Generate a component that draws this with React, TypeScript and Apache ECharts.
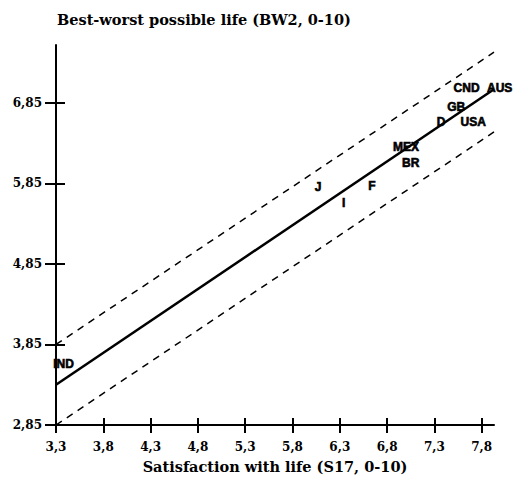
import React, { useEffect, useRef } from "react";
import * as echarts from "echarts";

// Country labels (positions: satisfaction x, best-worst y)
const countries = ["IND", "J", "I", "F", "MEX", "BR", "D", "GB", "USA", "CND", "AUS"];
const satisfaction = [3.38, 6.07, 6.34, 6.64, 7.0, 7.05, 7.37, 7.53, 7.71, 7.64, 7.99];
const bestWorst = [3.61, 5.81, 5.61, 5.82, 6.3, 6.1, 6.61, 6.8, 6.61, 7.04, 7.04];

// Regression line and band (end points)
const lineX = [3.3, 7.93];
const fitY = [3.35, 7.02];
const upperY = [3.85, 7.48];
const lowerY = [2.85, 6.49];

const xTicks = [3.3, 3.8, 4.3, 4.8, 5.3, 5.8, 6.3, 6.8, 7.3, 7.8];
const yTicks = [2.85, 3.85, 4.85, 5.85, 6.85];

const X_MIN = 3.3;
const X_MAX = 7.93;
const Y_MIN = 2.85;
const Y_MAX = 7.57;

export default function App() {
  const ref = useRef<HTMLDivElement>(null);
  useEffect(() => {
    if (!ref.current) return;
    const chart = echarts.init(ref.current, null, { renderer: "svg" });
    const serif = "DejaVu Serif";
    const mkX = (idx: number, inside: boolean) => ({
      type: "value",
      min: X_MIN,
      max: X_MAX,
      position: "bottom",
      axisLine: { show: idx === 0, onZero: false, lineStyle: { color: "#000", width: 2 } },
      axisTick: {
        show: true,
        inside,
        length: inside ? 7 : 8,
        customValues: xTicks,
        lineStyle: { color: "#000", width: 2 },
      },
      axisLabel: {
        show: idx === 0,
        customValues: xTicks,
        margin: 16,
        color: "#000",
        fontFamily: serif,
        fontWeight: "bold",
        fontSize: 12,
        formatter: (v: number) => v.toFixed(1).replace(".", ","),
      },
      splitLine: { show: false },
      name: idx === 0 ? "Satisfaction with life (S17, 0-10)" : "",
      nameLocation: "middle",
      nameGap: 34,
      nameTextStyle: { color: "#000", fontFamily: serif, fontWeight: "bold", fontSize: 14.5 },
    });
    const mkY = (idx: number, inside: boolean) => ({
      type: "value",
      min: Y_MIN,
      max: Y_MAX,
      position: "left",
      axisLine: { show: idx === 0, onZero: false, lineStyle: { color: "#000", width: 2 } },
      axisTick: {
        show: true,
        inside,
        length: inside ? 9 : 11,
        customValues: yTicks,
        lineStyle: { color: "#000", width: 2 },
      },
      axisLabel: {
        show: idx === 0,
        customValues: yTicks,
        margin: 14,
        color: "#000",
        fontFamily: serif,
        fontWeight: "bold",
        fontSize: 12,
        formatter: (v: number) => v.toFixed(2).replace(".", ","),
      },
      splitLine: { show: false },
    });
    const labelData = countries.map((c, i) => [satisfaction[i], bestWorst[i], c]);
    chart.setOption({
      animation: false,
      backgroundColor: "#fff",
      title: {
        text: "Best-worst possible life (BW2, 0-10)",
        left: 52,
        top: 7,
        textStyle: { color: "#000", fontFamily: serif, fontWeight: "bold", fontSize: 14.5 },
      },
      grid: { left: 56, right: 20, top: 45, bottom: 69, containLabel: false },
      xAxis: [mkX(0, false), mkX(1, true)],
      yAxis: [mkY(0, false), mkY(1, true)],
      series: [
        {
          type: "line",
          data: lineX.map((x, i) => [x, fitY[i]]),
          symbol: "none",
          lineStyle: { color: "#000", width: 2.5 },
          z: 3,
        },
        {
          type: "line",
          data: lineX.map((x, i) => [x, upperY[i]]),
          symbol: "none",
          lineStyle: { color: "#000", width: 1.5, type: [7, 6] },
          z: 3,
        },
        {
          type: "line",
          data: lineX.map((x, i) => [x, lowerY[i]]),
          symbol: "none",
          lineStyle: { color: "#000", width: 1.5, type: [7, 6] },
          z: 3,
        },
        {
          type: "scatter",
          data: labelData,
          symbolSize: 0,
          clip: false,
          itemStyle: { color: "#000", opacity: 1 },
          label: {
            show: true,
            position: "inside",
            formatter: (p: any) => p.data[2],
            color: "#000",
            textBorderColor: "#000",
            textBorderWidth: 0.6,
            fontFamily: "Liberation Sans Narrow, Liberation Sans, sans-serif",
            fontWeight: "bold",
            fontSize: 12,
          },
          z: 4,
        },
      ],
    });
    return () => chart.dispose();
  }, []);
  return (
    <div
      ref={ref}
      style={{ position: "absolute", left: 0, top: 0, width: 514, height: 494 }}
    />
  );
}
